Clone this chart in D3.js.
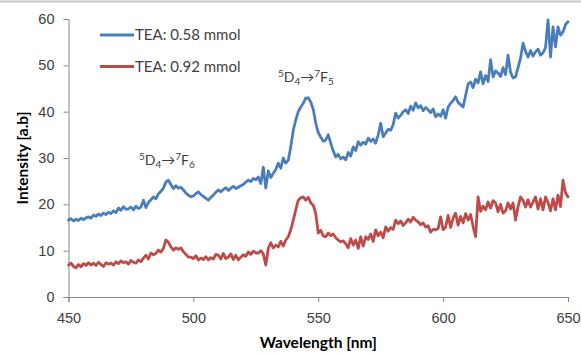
<!DOCTYPE html>
<html>
<head>
<meta charset="utf-8">
<script src="https://cdn.jsdelivr.net/npm/d3@7"></script>
<style>
  html, body { margin: 0; padding: 0; background: #fff; }
  svg { display: block; font-family: Lato, "Open Sans", sans-serif; }
</style>
</head>
<body>
<div id="chart"></div>
<script>
// wavelength grid, 1 nm steps
const wavelengths = d3.range(450, 651, 1);

const xTicks = [450, 500, 550, 600, 650];
const yTicks = [0, 10, 20, 30, 40, 50, 60];

const seriesNames = ['TEA: 0.58 mmol', 'TEA: 0.92 mmol'];

// TEA 0.58 mmol, 450..650 nm
const tea058 = [
  16.6, 16.9, 16.4, 16.8, 16.5, 17.0, 16.7, 17.1, 17.3, 17.0,
  17.7, 17.4, 17.9, 17.6, 18.1, 17.8, 18.3, 18.0, 18.6, 18.2,
  19.2, 18.7, 19.5, 18.9, 19.0, 19.4, 18.8, 19.6, 19.1, 19.4,
  20.9, 19.3, 20.4, 21.0, 21.6, 21.2, 22.3, 22.8, 23.5, 24.8,
  25.2, 24.3, 23.4, 24.0, 23.5, 23.7, 23.1, 22.4, 22.0, 21.6,
  21.8, 22.3, 22.7, 22.1, 21.7, 21.3, 20.9, 21.5, 22.0, 22.6,
  23.1, 22.7, 23.2, 23.6, 23.0, 23.5, 23.9, 23.4, 23.7, 24.0,
  24.3, 24.8, 25.2, 24.9, 25.6, 25.3, 25.9, 24.5, 28.0, 23.5,
  27.2, 25.8, 26.7, 27.5, 28.9, 27.8, 30.0, 28.9, 29.5, 32.4,
  36.0, 38.2, 40.0, 41.0, 41.8, 42.9, 43.0, 42.1, 40.5, 37.5,
  35.5, 34.5, 33.6, 33.9, 35.0, 33.2, 31.5, 30.2, 30.8, 29.8,
  30.2, 29.6, 31.2, 30.4, 32.4, 31.6, 33.5, 32.8, 33.4, 33.0,
  34.3, 33.6, 34.1, 33.2, 35.0, 37.5, 34.6, 35.4, 36.2, 36.0,
  37.2, 39.7, 38.6, 39.2, 40.0, 40.4, 39.6, 41.2, 40.3, 41.9,
  40.8, 41.3, 40.2, 40.9, 40.4, 39.8, 40.6, 38.9, 39.5, 39.0,
  40.4, 38.6, 41.0, 41.8, 42.4, 43.2, 42.0, 41.5, 41.0, 43.5,
  46.0, 46.4, 45.2, 47.0, 46.2, 48.6, 46.0, 47.8, 46.5, 51.2,
  47.5, 48.8, 48.3, 47.6, 49.5, 48.0, 52.2, 48.5, 47.3, 47.5,
  49.5, 51.5, 54.8, 53.0, 51.8, 53.2, 52.0, 52.9, 53.5, 52.2,
  52.7, 53.8, 59.8, 51.8, 58.3, 54.0, 58.3, 56.5, 57.2, 58.8,
  59.4
];

// TEA 0.92 mmol, 450..650 nm
const tea092 = [
  6.9, 7.3, 6.6, 6.3, 7.0, 6.5, 7.2, 6.8, 7.4, 6.9,
  7.3, 6.8, 7.5, 7.0, 6.6, 7.4, 7.1, 7.3, 6.9, 7.6,
  7.2, 7.8, 7.4, 7.6, 7.1, 7.9, 7.5, 7.3, 8.0, 7.6,
  8.4, 9.0, 8.2, 9.5, 9.1, 9.4, 10.1, 9.7, 10.5, 12.3,
  11.8, 10.8, 10.1, 10.6, 10.3, 10.6, 9.8, 9.2, 8.6, 8.6,
  8.3, 8.9, 8.0, 8.4, 8.1, 8.7, 8.0, 8.5, 8.2, 9.2,
  9.0, 8.2, 9.4, 8.3, 8.6, 9.3, 8.1, 9.0, 8.0, 8.6,
  9.1, 8.8, 9.7, 9.2, 9.9, 9.5, 9.5, 10.0, 9.3, 6.9,
  10.5, 11.7, 10.6, 11.2, 10.8, 12.0, 11.0, 12.3, 13.0, 14.5,
  16.6, 18.8, 20.9, 21.4, 21.6, 20.9, 21.5, 20.3, 19.8, 18.0,
  13.8, 14.4, 13.2, 13.0, 13.8, 13.2, 13.6, 12.8, 12.3, 11.9,
  12.1, 11.5, 10.6, 12.6, 11.2, 12.3, 10.5, 13.0, 11.0, 13.0,
  12.4, 13.6, 12.0, 14.5, 13.2, 14.0, 12.8, 15.1, 14.2, 15.0,
  14.6, 16.6, 15.8, 16.4, 15.4, 16.0, 16.8, 16.2, 17.2, 16.6,
  16.2, 15.6, 16.0, 15.1, 15.4, 14.0, 14.6, 14.5, 14.8, 17.3,
  14.5, 15.1, 17.6, 15.0, 17.0, 18.1, 15.5, 17.4, 16.0, 18.0,
  16.6, 17.8, 15.2, 13.0, 21.6, 18.5, 19.6, 18.8, 20.5, 19.2,
  20.8, 20.3, 18.4, 20.0, 18.1, 18.6, 20.3, 19.0, 20.3, 16.6,
  19.5, 21.6, 20.8, 19.4, 21.0, 19.4, 20.5, 21.6, 19.0, 21.2,
  18.8, 21.6, 20.4, 18.6, 21.2, 18.8, 22.0, 19.5, 25.2, 22.5,
  21.6
];

const colors = ['#4a7ebb', '#be4b48'];

const width = 581, height = 353;
const margin = { top: 19, right: 13, bottom: 56, left: 68.5 };

const svg = d3.select('#chart').append('svg')
  .attr('width', width)
  .attr('height', height);

// chart frame top edge
svg.append('line')
  .attr('x1', 0).attr('x2', width)
  .attr('y1', 1.5).attr('y2', 1.5)
  .attr('stroke', '#c8c8c8')
  .attr('stroke-width', 2);

let x = d3.scaleLinear()
  .domain([450, 650])
  .range([margin.left, width - margin.right]);

let y = d3.scaleLinear()
  .domain([0, 60])
  .range([height - margin.bottom, margin.top]);

// y axis
let gy = svg.append('g')
  .attr('transform', `translate(${margin.left}, 0)`)
  .call(d3.axisLeft(y).tickValues(yTicks).tickSize(5).tickPadding(9));
gy.select('.domain').attr('stroke', '#868686');
gy.selectAll('.tick line').attr('stroke', '#868686');
gy.selectAll('.tick text')
  .attr('fill', '#404040')
  .style('font-size', '14.5px');

// x axis
let gx = svg.append('g')
  .attr('transform', `translate(0, ${y(0)})`)
  .call(d3.axisBottom(x).tickValues(xTicks).tickSize(5).tickPadding(11));
gx.select('.domain').attr('stroke', '#868686');
gx.selectAll('.tick line').attr('stroke', '#868686');
gx.selectAll('.tick text')
  .attr('fill', '#404040')
  .style('font-size', '14.5px');

// axis titles
svg.append('text')
  .attr('transform', `translate(28, ${(y(0) + y(60)) / 2}) rotate(-90)`)
  .attr('text-anchor', 'middle')
  .style('font-size', '15.5px')
  .style('font-weight', 'bold')
  .attr('fill', '#000')
  .text('Intensity [a.b]');

svg.append('text')
  .attr('x', (x(450) + x(650)) / 2)
  .attr('y', 348)
  .attr('text-anchor', 'middle')
  .style('font-size', '15.5px')
  .style('font-weight', 'bold')
  .attr('fill', '#000')
  .text('Wavelength [nm]');

// lines
let line = d3.line()
  .x((d, i) => x(wavelengths[i]))
  .y(d => y(d));

[tea058, tea092].forEach((s, k) => {
  svg.append('path')
    .datum(s)
    .attr('fill', 'none')
    .attr('stroke', colors[k])
    .attr('stroke-width', 2.8)
    .attr('stroke-linejoin', 'round')
    .attr('stroke-linecap', 'round')
    .attr('d', line);
});

// legend
seriesNames.forEach((name, k) => {
  let ly = 35 + k * 31.5;
  svg.append('line')
    .attr('x1', 100).attr('x2', 134)
    .attr('y1', ly).attr('y2', ly)
    .attr('stroke', colors[k])
    .attr('stroke-width', 2.8);
  svg.append('text')
    .attr('x', 135)
    .attr('y', ly + 5)
    .style('font-size', '15px')
    .attr('fill', '#404040')
    .text(name);
});

// transition annotations
function transition(tx, ty, lower) {
  let t = svg.append('text')
    .attr('x', tx).attr('y', ty)
    .style('font-size', '14px')
    .attr('fill', '#404040');
  t.append('tspan').attr('dy', -5).style('font-size', '10px').text('5');
  t.append('tspan').attr('dy', 5).text('D');
  t.append('tspan').attr('dy', 3).style('font-size', '10px').text('4');
  t.append('tspan').attr('dy', -3).text('\u2192');
  t.append('tspan').attr('dy', -5).style('font-size', '10px').text('7');
  t.append('tspan').attr('dy', 5).text('F');
  t.append('tspan').attr('dy', 3).style('font-size', '10px').text(lower);
}
transition(139, 165, '6');
transition(278, 82, '5');
</script>
</body>
</html>
